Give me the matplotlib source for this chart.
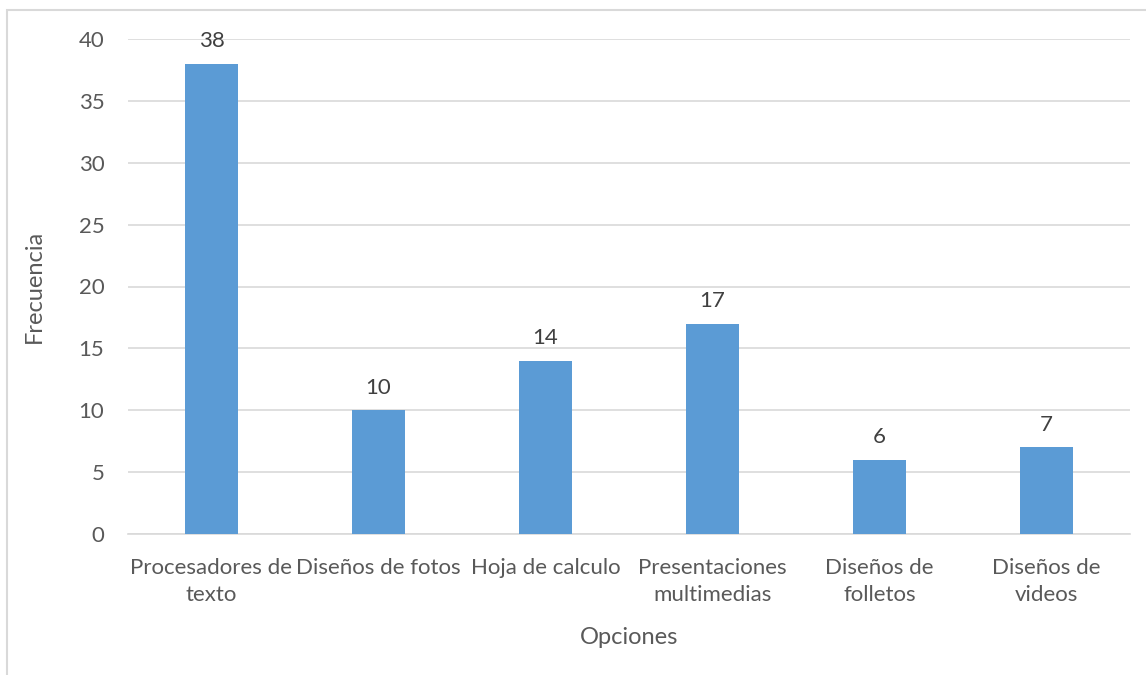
import matplotlib
matplotlib.use("Agg")
import matplotlib.pyplot as plt
from matplotlib.patches import Rectangle

categories = ["Procesadores de\ntexto", "Diseños de fotos", "Hoja de calculo",
              "Presentaciones\nmultimedias", "Diseños de\nfolletos", "Diseños de\nvideos"]
values = [38, 10, 14, 17, 6, 7]
yticks = [0, 5, 10, 15, 20, 25, 30, 35, 40]

plt.rcParams['font.family'] = ['Lato', 'DejaVu Sans']
txt = '#595959'

fig = plt.figure(figsize=(11.46, 6.75), dpi=100)
ax = fig.add_axes([128/1146, 1-534/675, (1130-128)/1146, (534-39)/675])

fig.patches.append(Rectangle((7/1146, -0.1), 1.2, 1.1 - 10/675,
                             transform=fig.transFigure, fill=False,
                             edgecolor='#D9D9D9', linewidth=1.5))

x = range(len(categories))
ax.bar(x, values, width=0.32, color='#5B9BD5', zorder=3)
for xi, v in zip(x, values):
    ax.annotate(str(v), (xi, v), xytext=(0, 9), textcoords='offset points',
                ha='center', va='bottom', fontsize=16, color='#404040')

ax.set_xlim(-0.5, len(categories) - 0.5)
ax.set_ylim(0, 40)
ax.set_yticks(yticks)
ax.set_xticks(list(x))
ax.set_xticklabels(categories, fontsize=16, color=txt, linespacing=1.45)
ax.tick_params(axis='y', labelsize=16, labelcolor=txt, length=0, pad=17)
ax.tick_params(axis='x', length=0, pad=17)
ax.grid(axis='y', color='#D9D9D9', linewidth=1.2, zorder=0)
for s in ['top', 'right', 'left']:
    ax.spines[s].set_visible(False)
ax.spines['bottom'].set_color('#D9D9D9')
ax.spines['bottom'].set_linewidth(1.2)
ax.set_xlabel('Opciones', fontsize=17, color=txt, labelpad=16)
ax.set_ylabel('Frecuencia', fontsize=17, color=txt, labelpad=24)

fig.savefig('out.png', dpi=100)
